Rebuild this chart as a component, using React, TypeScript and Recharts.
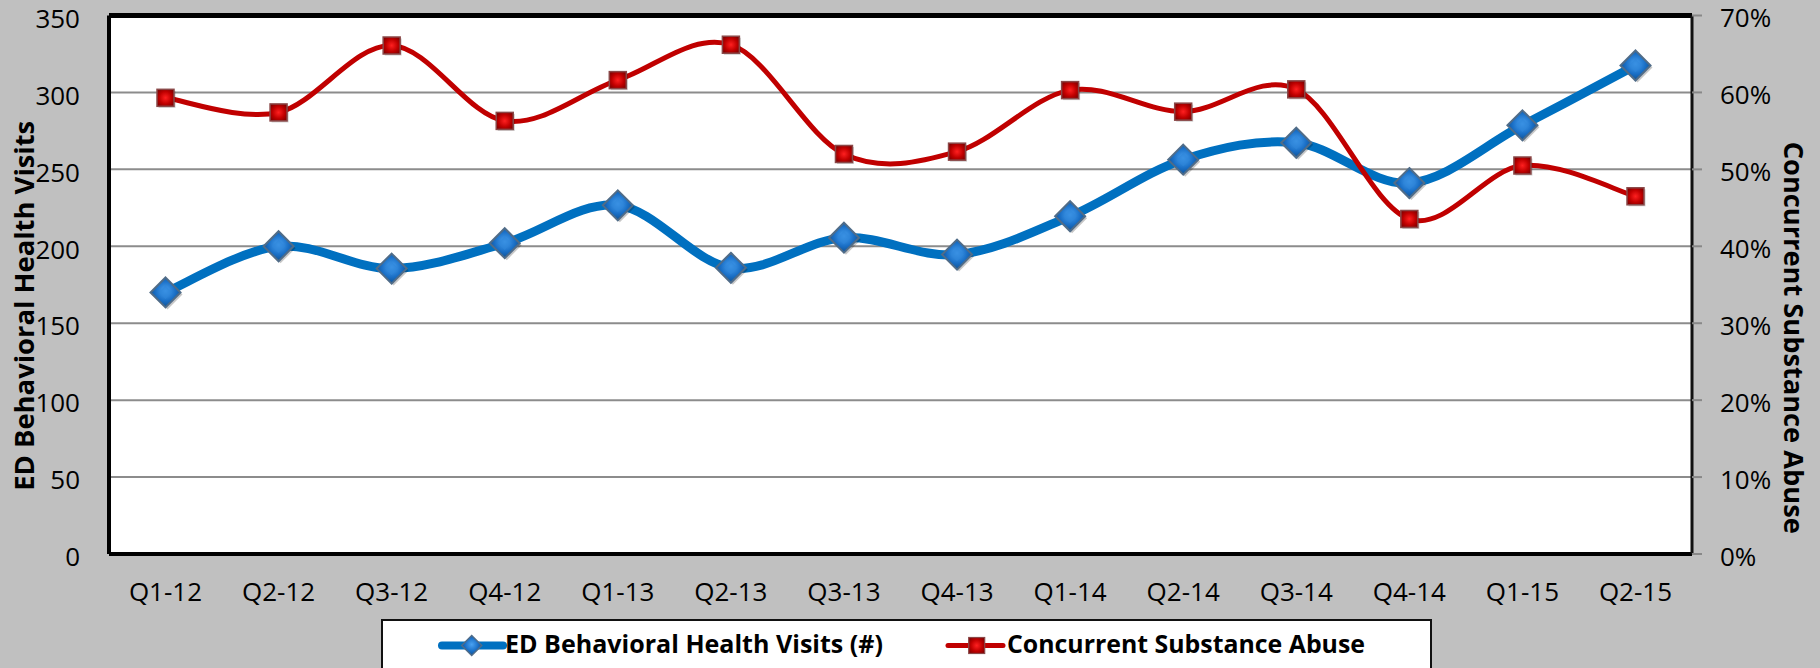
import React from 'react';
import { LineChart, Line, XAxis, YAxis, CartesianGrid, ReferenceLine, Legend } from 'recharts';

const categories = ['Q1-12', 'Q2-12', 'Q3-12', 'Q4-12', 'Q1-13', 'Q2-13', 'Q3-13', 'Q4-13', 'Q1-14', 'Q2-14', 'Q3-14', 'Q4-14', 'Q1-15', 'Q2-15'];
const visits = [170, 200, 185.5, 202, 226.6, 186, 205.6, 194.6, 219.5, 256.3, 267.3, 241.1, 278.6, 317.5];
const abuse = [0.593, 0.574, 0.661, 0.563, 0.616, 0.662, 0.52, 0.523, 0.603, 0.575, 0.604, 0.4355, 0.505, 0.465];
const leftTicks = [0, 50, 100, 150, 200, 250, 300, 350];
const rightTicks = [0, 0.1, 0.2, 0.3, 0.4, 0.5, 0.6, 0.7];
const seriesNames = ['ED Behavioral Health Visits (#)', 'Concurrent Substance Abuse'];
const axisTitles = ['ED Behavioral Health Visits', 'Concurrent Substance Abuse'];

const data = categories.map((q, i) => ({ q, visits: visits[i], abuse: abuse[i] }));

const FONT = "'Open Sans', 'Noto Sans', sans-serif";

// Excel-like smoothing (uniform Catmull-Rom as cubic Bezier)
function excelCurve(context: any) {
  let pts: number[][] = [];
  return {
    areaStart() {},
    areaEnd() {},
    lineStart() { pts = []; },
    lineEnd() {
      const n = pts.length;
      if (!n) return;
      context.moveTo(pts[0][0], pts[0][1]);
      for (let i = 0; i < n - 1; i++) {
        const p0 = pts[Math.max(i - 1, 0)];
        const p1 = pts[i];
        const p2 = pts[i + 1];
        const p3 = pts[Math.min(i + 2, n - 1)];
        context.bezierCurveTo(
          p1[0] + (p2[0] - p0[0]) / 6, p1[1] + (p2[1] - p0[1]) / 6,
          p2[0] - (p3[0] - p1[0]) / 6, p2[1] - (p3[1] - p1[1]) / 6,
          p2[0], p2[1]
        );
      }
    },
    point(x: number, y: number) { pts.push([+x, +y]); },
  };
}

const diamondPts = (cx: number, cy: number, rx: number, ry: number) =>
  `${cx},${cy - ry} ${cx + rx},${cy} ${cx},${cy + ry} ${cx - rx},${cy}`;

const DiamondDot = (props: any) => {
  const { cx, cy, index } = props;
  if (cx == null || cy == null) return <g key={`d${index}`} />;
  const r = 15;
  return (
    <g key={`d${index}`}>
      <polygon points={diamondPts(cx + 2, cy + 2, r, r)} fill="rgba(0,0,0,0.22)" />
      <polygon points={diamondPts(cx, cy, r, r)} fill="url(#blueDiamondGrad)" stroke="#506c88" strokeWidth={2} />
      <polygon points={diamondPts(cx, cy, r * 0.45, r * 0.45)} fill="#2f86d8" opacity={0.6} />
    </g>
  );
};

const SquareDot = (props: any) => {
  const { cx, cy, index } = props;
  if (cx == null || cy == null) return <g key={`s${index}`} />;
  const h = 8.5;
  return (
    <g key={`s${index}`}>
      <rect x={cx - h + 1.5} y={cy - h + 1.5} width={2 * h} height={2 * h} fill="rgba(0,0,0,0.2)" />
      <rect x={cx - h} y={cy - h} width={2 * h} height={2 * h} fill="url(#redSquareGrad)" stroke="#8a4848" strokeWidth={1.5} />
    </g>
  );
};

const renderLegend = (props: any) => {
  const payload = props.payload || [];
  const find = (key: string, fallback: string) => {
    const item = payload.find((p: any) => p.dataKey === key);
    return item?.value ?? fallback;
  };
  const name0 = find('visits', seriesNames[0]);
  const name1 = find('abuse', seriesNames[1]);
  return (
    <svg width={1051} height={60} style={{ position: 'absolute', left: 0, top: 0, overflow: 'visible' }}>
      <rect x={1} y={1} width={1049} height={80} fill="#fff" stroke="#111" strokeWidth={2} />
      <line x1={61} y1={26.5} x2={122} y2={26.5} stroke="#0070c0" strokeWidth={8} strokeLinecap="round" />
      <polygon points={diamondPts(90.7, 26.5, 10, 10)} fill="url(#blueDiamondGrad)" stroke="#506c88" strokeWidth={1.5} />
      <text x={124} y={33.7} fontFamily={FONT} fontWeight={700} fontSize={25} fill="#000" textLength={378} lengthAdjust="spacingAndGlyphs">{name0}</text>
      <line x1={567} y1={26.5} x2={622} y2={26.5} stroke="#c00000" strokeWidth={5} strokeLinecap="round" />
      <rect x={595.7 - 8} y={26.5 - 8} width={16} height={16} fill="url(#redSquareGrad)" stroke="#8a4848" strokeWidth={1.2} />
      <text x={626} y={33.7} fontFamily={FONT} fontWeight={700} fontSize={25} fill="#000" textLength={358} lengthAdjust="spacingAndGlyphs">{name1}</text>
    </svg>
  );
};

const LeftTitle = (props: any) => {
  const vb = props.viewBox || { x: 0, y: 0, width: 0, height: 0 };
  const cx = vb.x + 23;
  const cy = vb.y + vb.height / 2 + 21;
  return (
    <text x={cx} y={cy} transform={`rotate(-90, ${cx}, ${cy})`} textAnchor="middle" dominantBaseline="central"
      fontFamily={FONT} fontWeight={700} fontSize={27} fill="#000" textLength={370} lengthAdjust="spacingAndGlyphs">
      {axisTitles[0]}
    </text>
  );
};

const RightTitle = (props: any) => {
  const vb = props.viewBox || { x: 0, y: 0, width: 0, height: 0 };
  const cx = vb.x + 102;
  const cy = vb.y + vb.height / 2 + 53;
  return (
    <text x={cx} y={cy} transform={`rotate(90, ${cx}, ${cy})`} textAnchor="middle" dominantBaseline="central"
      fontFamily={FONT} fontWeight={700} fontSize={27} fill="#000" textLength={392} lengthAdjust="spacingAndGlyphs">
      {axisTitles[1]}
    </text>
  );
};

export default function App() {
  return (
    <div style={{ position: 'absolute', left: 0, top: 0, width: 1820, height: 668, background: '#c0c0c0', overflow: 'hidden' }}>
      <svg width={0} height={0} style={{ position: 'absolute' }}>
        <defs>
          <radialGradient id="blueDiamondGrad" cx="50%" cy="45%" r="60%">
            <stop offset="0%" stopColor="#4aa2f2" />
            <stop offset="55%" stopColor="#1a6fc6" />
            <stop offset="100%" stopColor="#0d4a88" />
          </radialGradient>
          <radialGradient id="redSquareGrad" cx="50%" cy="50%" r="65%">
            <stop offset="0%" stopColor="#ff2020" />
            <stop offset="55%" stopColor="#c00000" />
            <stop offset="100%" stopColor="#780000" />
          </radialGradient>
        </defs>
      </svg>
      <LineChart width={1820} height={668} data={data} margin={{ top: 15.5, right: 0, bottom: 0, left: 0 }}>
        <CartesianGrid yAxisId="left" vertical={false} stroke="#8c8c8c" strokeWidth={2} fill="#ffffff" fillOpacity={1} />
        <XAxis dataKey="q" height={114} padding={{ left: 56.5, right: 56.5 }} interval={0}
          tickLine={false} tickSize={0} tickMargin={29}
          axisLine={{ stroke: '#000', strokeWidth: 4 }}
          tick={{ fill: '#000', fontSize: 26, fontFamily: FONT }} />
        <YAxis yAxisId="left" domain={[0, 350]} ticks={leftTicks} width={109} interval={0}
          tickLine={false} tickSize={0} tickMargin={29}
          axisLine={{ stroke: '#000', strokeWidth: 4 }}
          tick={{ fill: '#000', fontSize: 26, fontFamily: FONT, dy: 3 }}
          label={{ content: (p: any) => <LeftTitle {...p} /> }} />
        <YAxis yAxisId="right" orientation="right" domain={[0, 0.7]} ticks={rightTicks} width={128} interval={0}
          tickFormatter={(v: number) => `${Math.round(v * 100)}%`}
          tickLine={{ stroke: '#888', strokeWidth: 2 }} tickSize={10} tickMargin={18}
          axisLine={{ stroke: '#111', strokeWidth: 3 }}
          tick={{ fill: '#000', fontSize: 26, fontFamily: FONT, dy: 2.5 }}
          label={{ content: (p: any) => <RightTitle {...p} /> }} />
        <ReferenceLine yAxisId="left" y={350} stroke="#000" strokeWidth={5} />
        <Legend content={renderLegend} wrapperStyle={{ position: 'absolute', left: 381, top: 619, width: 1051, height: 0 }} />
        <Line yAxisId="left" dataKey="visits" name={seriesNames[0]} type={excelCurve as any} stroke="#0070c0" strokeWidth={9}
          dot={DiamondDot} activeDot={false} isAnimationActive={false} />
        <Line yAxisId="right" dataKey="abuse" name={seriesNames[1]} type={excelCurve as any} stroke="#c00000" strokeWidth={5}
          dot={SquareDot} activeDot={false} isAnimationActive={false} />
      </LineChart>
    </div>
  );
}
